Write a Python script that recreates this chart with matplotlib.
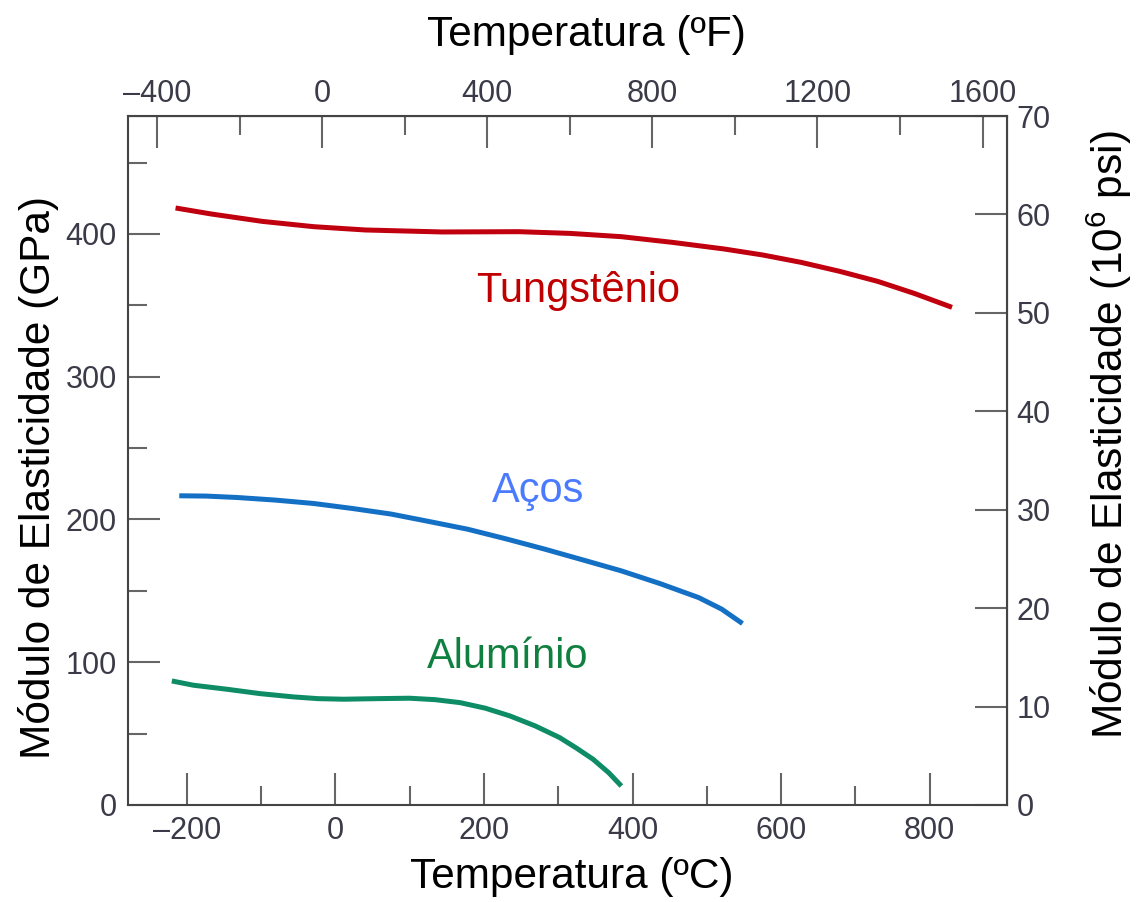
import numpy as np
import matplotlib
matplotlib.use("Agg")
import matplotlib.pyplot as plt
from matplotlib.ticker import FixedLocator

plt.rcParams['font.family'] = ['Liberation Sans', 'DejaVu Sans']
plt.rcParams['mathtext.fontset'] = 'custom'
plt.rcParams['mathtext.rm'] = 'Liberation Sans'
plt.rcParams['mathtext.it'] = 'Liberation Sans'

# Data (temperature in °C, modulus in GPa)
w_temp = [-215, -167, -98, -29, 40, 144, 247, 316, 385, 454, 523, 575, 627, 679, 730, 779, 830]
w_mod = [418.2, 414.0, 408.8, 405.1, 402.8, 401.4, 401.6, 400.4, 398.1, 394.1, 389.5, 385.3,
         380.1, 373.8, 366.8, 358.4, 348.6]

steel_temp = [-210, -174, -132, -81, -29, 23, 75, 126, 178, 230, 282, 333, 385, 437, 489, 520, 548]
steel_mod = [216.6, 216.4, 215.4, 213.6, 211.2, 207.7, 203.8, 198.6, 193.2, 186.4, 179.2, 171.7,
             164.0, 155.1, 145.3, 137.2, 127.1]

al_temp = [-220, -191, -146, -101, -56, -23, 11, 56, 100, 134, 168, 202, 235, 269, 302, 325, 347, 368, 385]
al_mod = [86.9, 83.9, 81.1, 78.0, 75.7, 74.5, 74.1, 74.5, 74.8, 73.8, 71.7, 67.8, 62.4, 55.4,
          47.2, 39.7, 32.0, 22.6, 13.3]

labels = ["Tungstênio", "Aços", "Alumínio"]
label_pos_temp = [327, 273, 232]
label_pos_mod = [360, 220, 104]

c_major = [-200, 0, 200, 400, 600, 800]
c_minor = [-100, 100, 300, 500, 700]
f_major = [-400, 0, 400, 800, 1200, 1600]
f_minor = [-200, 200, 600, 1000, 1400]
gpa_major = [0, 100, 200, 300, 400]
gpa_minor = [50, 150, 250, 350, 450]
psi_major = [0, 10, 20, 30, 40, 50, 60, 70]

line_colors = ['#c0000e', '#1470c4', '#0e8c66']
text_colors = ['#c00000', '#4a7bff', '#108040']

GPA_PER_MSI = 6.894757

fig = plt.figure(figsize=(11.36, 9.02), dpi=100)
ax = fig.add_axes([128/1136, 97/902, (1007-128)/1136, (805-116)/902])

for t, m, c in zip([w_temp, steel_temp, al_temp], [w_mod, steel_mod, al_mod], line_colors):
    ax.plot(t, m, color=c, lw=3.6, solid_capstyle='butt', solid_joinstyle='round')

for lab, tx, ty, c in zip(labels, label_pos_temp, label_pos_mod, text_colors):
    ax.text(tx, ty, lab, color=c, fontsize=30, ha='center', va='center')

ax.set_xlim(-279, 904)
ax.set_ylim(0, 70 * GPA_PER_MSI)

tick_color = '#666666'
label_color = '#3a3a48'

ax.xaxis.set_major_locator(FixedLocator(c_major))
ax.xaxis.set_minor_locator(FixedLocator(c_minor))
ax.yaxis.set_major_locator(FixedLocator(gpa_major))
ax.yaxis.set_minor_locator(FixedLocator(gpa_minor))
ax.tick_params(which='major', direction='in', length=23, width=1.5, color=tick_color,
               labelsize=22, labelcolor=label_color, pad=8)
ax.tick_params(which='minor', direction='in', length=14, width=1.5, color=tick_color)

for s in ax.spines.values():
    s.set_color('#444444')
    s.set_linewidth(1.5)

sec_x = ax.secondary_xaxis('top', functions=(lambda c: c * 1.8 + 32, lambda f: (f - 32) / 1.8))
sec_x.xaxis.set_major_locator(FixedLocator(f_major))
sec_x.xaxis.set_minor_locator(FixedLocator(f_minor))
sec_x.tick_params(which='major', direction='in', length=23, width=1.5, color=tick_color,
                  labelsize=22, labelcolor=label_color, pad=5)
sec_x.tick_params(which='minor', direction='in', length=14, width=1.5, color=tick_color)
sec_x.set_xticklabels(['\u2013400', '0', '400', '800', '1200', '1600'])

sec_y = ax.secondary_yaxis('right', functions=(lambda g: g / GPA_PER_MSI, lambda p: p * GPA_PER_MSI))
sec_y.yaxis.set_major_locator(FixedLocator(psi_major))
sec_y.tick_params(which='major', direction='in', length=23, width=1.5, color=tick_color,
                  labelsize=22, labelcolor=label_color, pad=7)
sec_y.tick_params(which='minor', length=0)

ax.set_xticklabels(['\u2013200', '0', '200', '400', '600', '800'])

lab_fs = 30.5
ax.set_xlabel('Temperatura (ºC)', fontsize=lab_fs, labelpad=8)
sec_x.set_xlabel('Temperatura (ºF)', fontsize=lab_fs, labelpad=24)
ax.set_ylabel('Módulo de Elasticidade (GPa)', fontsize=lab_fs, labelpad=5)
sec_y.set_ylabel('Módulo de Elasticidade (10$^6$ psi)', fontsize=lab_fs, labelpad=24)

fig.canvas.draw()
# shift label positions along their axes to match the reference layout
ax.xaxis.label.set_x(0.505)
sec_x.xaxis.label.set_x(0.521)
ax.yaxis.label.set_y(0.476)
sec_y.yaxis.label.set_y(0.537)

fig.savefig('out.png', dpi=100)
